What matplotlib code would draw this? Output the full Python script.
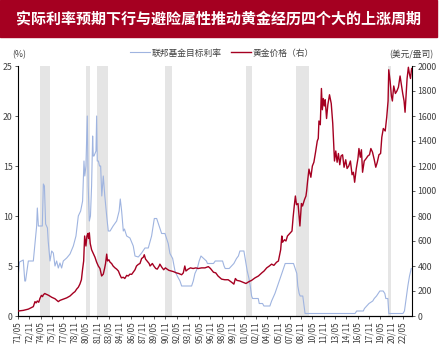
import numpy as np
import matplotlib.pyplot as plt
from matplotlib.lines import Line2D

plt.rcParams['font.family'] = ['Noto Sans CJK SC', 'DejaVu Sans']

# ===============================
# Data (decimal years)
# ===============================
fed_t = [1971.0, 1971.2, 1971.7, 1971.9, 1972.0, 1972.37, 1973.03, 1973.25, 1973.47, 1973.56,
         1973.7, 1974.22, 1974.36, 1974.5, 1974.66, 1974.9, 1975.0, 1975.24, 1975.46, 1975.68,
         1975.9, 1976.12, 1976.34, 1976.56, 1976.78, 1977.0, 1977.45, 1977.89, 1978.33, 1978.68,
         1978.99, 1979.3, 1979.56, 1979.74, 1979.85, 1979.92, 1980.0, 1980.18, 1980.3, 1980.45,
         1980.6, 1980.75, 1980.89, 1980.97, 1981.07, 1981.33, 1981.42, 1981.5, 1981.65, 1981.8,
         1981.95, 1982.1, 1982.3, 1982.4, 1982.5, 1982.75, 1982.96, 1983.2, 1983.6, 1984.07,
         1984.4, 1984.55, 1984.73, 1984.95, 1985.1, 1985.4, 1985.83, 1986.27, 1986.5, 1986.94,
         1987.38, 1987.82, 1988.26, 1988.7, 1989.06, 1989.37, 1989.7, 1990.03, 1990.47, 1990.9,
         1991.13, 1991.49, 1991.8, 1992.1, 1992.46, 1992.68, 1994.0, 1994.22, 1994.44, 1994.75,
         1995.0, 1995.24, 1995.6, 1995.96, 1996.1, 1996.9, 1997.13, 1998.1, 1998.3, 1998.45,
         1998.98, 1999.3, 1999.6, 1999.95, 2000.2, 2000.4, 2000.93, 2001.15, 2001.37, 2001.6,
         2001.77, 2001.95, 2002.08, 2002.83, 2002.96, 2003.4, 2003.58, 2004.37, 2004.6, 2005.04,
         2005.5, 2005.95, 2006.4, 2007.5, 2007.72, 2007.94, 2008.07, 2008.25, 2008.38, 2008.73,
         2008.9, 2009.03, 2015.65, 2015.87, 2016.75, 2016.9, 2017.2, 2017.5, 2018.0, 2018.2,
         2018.5, 2018.72, 2018.94, 2019.38, 2019.6, 2019.73, 2020.0, 2020.13, 2022.0, 2022.2,
         2022.43, 2022.65, 2022.87, 2023.1]
fed_v = [3.8, 5.4, 5.6, 3.5, 3.5, 5.5, 5.5, 7.3, 9.0, 10.8,
         9.0, 9.0, 13.2, 13.0, 9.2, 8.8, 7.5, 5.5, 6.5, 6.3,
         5.0, 5.5, 4.8, 5.3, 4.8, 5.5, 5.8, 6.2, 7.0, 8.0,
         10.0, 10.5, 11.5, 15.5, 14.0, 14.5, 15.0, 20.0, 13.0, 9.5,
         10.0, 13.0, 18.0, 16.0, 16.0, 16.5, 20.0, 15.5, 15.5, 15.0,
         15.0, 12.0, 14.0, 13.0, 12.0, 10.0, 8.5, 8.5, 9.0, 9.5,
         10.5, 11.7, 10.5, 8.5, 8.7, 8.0, 7.8, 7.0, 6.0, 5.9,
         6.3, 6.8, 6.8, 8.0, 9.75, 9.75, 9.0, 8.25, 8.25, 7.25,
         6.25, 5.75, 4.5, 4.0, 3.5, 3.0, 3.0, 3.5, 4.25, 4.75,
         5.5, 6.0, 5.75, 5.5, 5.25, 5.25, 5.5, 5.5, 5.0, 4.75,
         4.75, 5.0, 5.25, 5.75, 6.0, 6.5, 6.5, 5.5, 4.5, 3.75,
         3.0, 2.0, 1.75, 1.75, 1.25, 1.25, 1.0, 1.0, 1.5, 2.25,
         3.25, 4.25, 5.25, 5.25, 4.75, 4.25, 3.0, 2.25, 2.0, 2.0,
         1.0, 0.25, 0.25, 0.5, 0.5, 0.75, 1.0, 1.25, 1.5, 1.75,
         2.0, 2.25, 2.5, 2.5, 2.25, 1.75, 1.75, 0.25, 0.25, 0.5,
         1.75, 3.0, 4.0, 4.75]

gold_t = [1971.04, 1971.7, 1972.37, 1972.7, 1973.03, 1973.25, 1973.4, 1973.56, 1973.75, 1973.9,
          1974.1, 1974.25, 1974.36, 1974.55, 1974.7, 1974.9, 1975.15, 1975.46, 1975.9, 1976.34,
          1976.56, 1977.0, 1977.45, 1977.89, 1978.33, 1978.55, 1978.77, 1978.99, 1979.2, 1979.4,
          1979.56, 1979.7, 1979.83, 1979.92, 1980.0, 1980.13, 1980.26, 1980.35, 1980.45, 1980.57,
          1980.75, 1980.97, 1981.2, 1981.42, 1981.64, 1981.86, 1982.08, 1982.3, 1982.47, 1982.6,
          1982.75, 1982.86, 1983.04, 1983.2, 1983.4, 1983.6, 1983.85, 1984.07, 1984.3, 1984.5,
          1984.7, 1984.95, 1985.15, 1985.4, 1985.6, 1985.83, 1986.06, 1986.5, 1986.7, 1986.94,
          1987.16, 1987.38, 1987.6, 1987.73, 1987.9, 1988.1, 1988.37, 1988.5, 1988.8, 1989.0,
          1989.25, 1989.45, 1989.7, 1989.8, 1990.05, 1990.3, 1990.53, 1990.75, 1991.0, 1991.3,
          1991.6, 1991.98, 1992.3, 1992.68, 1992.9, 1993.1, 1993.25, 1993.55, 1993.85, 1994.2,
          1994.57, 1994.87, 1995.33, 1995.77, 1996.22, 1996.5, 1996.9, 1997.2, 1997.5, 1997.97,
          1998.4, 1998.85, 1999.3, 1999.6, 1999.8, 2000.0, 2000.4, 2000.8, 2001.2, 2001.6,
          2001.95, 2002.4, 2002.85, 2003.3, 2003.6, 2003.95, 2004.3, 2004.6, 2004.9, 2005.25,
          2005.5, 2005.6, 2005.8, 2005.95, 2006.05, 2006.3, 2006.5, 2006.7, 2007.0, 2007.3,
          2007.45, 2007.6, 2007.75, 2007.9, 2008.1, 2008.35, 2008.55, 2008.7, 2008.95, 2009.15,
          2009.24, 2009.37, 2009.55, 2009.68, 2009.8, 2010.0, 2010.2, 2010.42, 2010.65, 2010.78,
          2010.87, 2011.05, 2011.2, 2011.32, 2011.45, 2011.58, 2011.7, 2011.88, 2012.05, 2012.27,
          2012.5, 2012.7, 2012.93, 2013.1, 2013.28, 2013.45, 2013.63, 2013.8, 2014.0, 2014.2,
          2014.42, 2014.6, 2014.82, 2015.04, 2015.26, 2015.44, 2015.6, 2015.82, 2016.04, 2016.17,
          2016.35, 2016.5, 2016.65, 2016.87, 2017.13, 2017.35, 2017.57, 2017.75, 2017.97, 2018.2,
          2018.4, 2018.6, 2018.82, 2019.04, 2019.2, 2019.4, 2019.65, 2019.85, 2020.03, 2020.12,
          2020.3, 2020.47, 2020.6, 2020.78, 2021.0, 2021.2, 2021.4, 2021.62, 2021.8, 2021.97,
          2022.15, 2022.28, 2022.4, 2022.55, 2022.72, 2022.85, 2023.0, 2023.15]
gold_v = [40, 45, 55, 65, 75, 115, 105, 120, 110, 140,
          165, 155, 170, 180, 175, 170, 162, 150, 138, 115,
          125, 135, 145, 160, 185, 195, 215, 230, 255, 290,
          375, 440, 640, 600, 560, 640, 660, 620, 665, 580,
          530, 500, 470, 430, 400, 380, 320, 335, 380, 420,
          495, 440, 450, 430, 420, 400, 385, 375, 360, 330,
          305, 310, 300, 325, 320, 335, 333, 370, 400, 413,
          420, 460, 470, 490, 455, 440, 420, 400, 420, 400,
          380, 375, 400, 415, 390, 370, 385, 375, 365, 360,
          355, 345, 340, 330, 345, 400, 360, 375, 385, 380,
          385, 380, 385, 385, 395, 380, 350, 345, 320, 295,
          290, 290, 270, 255, 300, 285, 280, 270, 260, 275,
          285, 305, 320, 345, 360, 385, 400, 415, 405, 430,
          440, 470, 530, 640, 590, 610, 600, 640, 660, 680,
          790, 880, 960, 890, 900, 720, 900, 880, 930, 960,
          1000, 1080, 1175, 1140, 1110, 1200, 1230, 1310, 1400, 1420,
          1560, 1530, 1820, 1650, 1740, 1680, 1730, 1580, 1690, 1770,
          1700, 1540, 1240, 1320, 1230, 1300, 1210, 1280, 1290, 1190,
          1250, 1180, 1200, 1240, 1130, 1150, 1070, 1180, 1260, 1340,
          1270, 1330, 1150, 1240, 1260, 1280, 1290, 1340, 1310, 1250,
          1190, 1230, 1290, 1300, 1430, 1500, 1480, 1590, 1720, 1970,
          1880, 1760, 1720, 1840, 1780, 1800, 1830, 1920, 1850, 1780,
          1720, 1630, 1750, 1900, 1990, 1940, 1900, 1980]

# recession periods (start, end)
shade_start = [1973.9, 1980.0, 1981.5, 1990.5, 2001.15, 2007.85, 2020.05]
shade_end = [1975.3, 1980.6, 1982.95, 1991.35, 2001.95, 2009.5, 2020.4]

tick_labels = ["71/05", "72/11", "74/05", "75/11", "77/05", "78/11", "80/05", "81/11",
               "83/05", "84/11", "86/05", "87/11", "89/05", "90/11", "92/05", "93/11",
               "95/05", "96/11", "98/05", "99/11", "01/05", "02/11", "04/05", "05/11",
               "07/05", "08/11", "10/05", "11/11", "13/05", "14/11", "16/05", "17/11",
               "19/05", "20/11", "22/05"]
tick_pos = 1971.0 + 1.5 * np.arange(len(tick_labels))

# ===============================
# Figure
# ===============================
RED = "#a50021"
BLUE = "#9fb4e0"
TXT = "#404040"

fig = plt.figure(figsize=(4.4, 3.44), dpi=100)

# title bar
fig.patches.append(plt.Rectangle((0, 1 - 37 / 344), 437 / 440, 37 / 344,
                                 transform=fig.transFigure, color=RED, zorder=0))
fig.text(0.497, 1 - 18.5 / 344, "实际利率预期下行与避险属性推动黄金经历四个大的上涨周期",
         color="white", fontsize=10.8, fontweight="bold", ha="center", va="center")

ax = fig.add_axes([18 / 440, 1 - 316 / 344, 394 / 440, 250 / 344])
ax2 = ax.twinx()

for s, e in zip(shade_start, shade_end):
    ax.axvspan(s, e, color="#e5e5e5", lw=0, zorder=0)

ax.plot(fed_t, fed_v, color=BLUE, lw=0.8, zorder=2)
ax2.plot(gold_t, gold_v, color=RED, lw=1.0, zorder=3)

ax.set_xlim(1971.0, 2023.2)
ax.set_ylim(0, 25)
ax2.set_ylim(0, 2000)
ax.set_yticks(np.arange(0, 26, 5))
ax2.set_yticks(np.arange(0, 2001, 200))
ax.set_xticks(tick_pos)
ax.set_xticklabels(tick_labels, rotation=90)

for a in (ax, ax2):
    a.spines["top"].set_visible(False)
    a.tick_params(labelsize=6.3, colors=TXT, length=2.5, width=0.6, pad=1.5)
    for sp in a.spines.values():
        sp.set_linewidth(0.8)
ax.tick_params(axis="x", labelsize=6.0)
ax2.spines["left"].set_visible(False)
ax.spines["right"].set_visible(False)

fig.text(12 / 440, 1 - 55 / 344, "(%)", fontsize=6.3, color=TXT, va="center")
fig.text(433 / 440, 1 - 55 / 344, "(美元/盎司)", fontsize=6.3, color=TXT,
         va="center", ha="right")

handles = [Line2D([], [], color=BLUE, lw=0.8), Line2D([], [], color=RED, lw=1.0)]
leg = fig.legend(handles, ["联邦基金目标利率", "黄金价格（右）"], loc="center",
                 bbox_to_anchor=(0.505, 1 - 53 / 344), ncol=2, frameon=False,
                 fontsize=6.3, handlelength=2.3, columnspacing=1.0, handletextpad=0.2)
for t in leg.get_texts():
    t.set_color(TXT)

fig.savefig("out.png", dpi=100)
